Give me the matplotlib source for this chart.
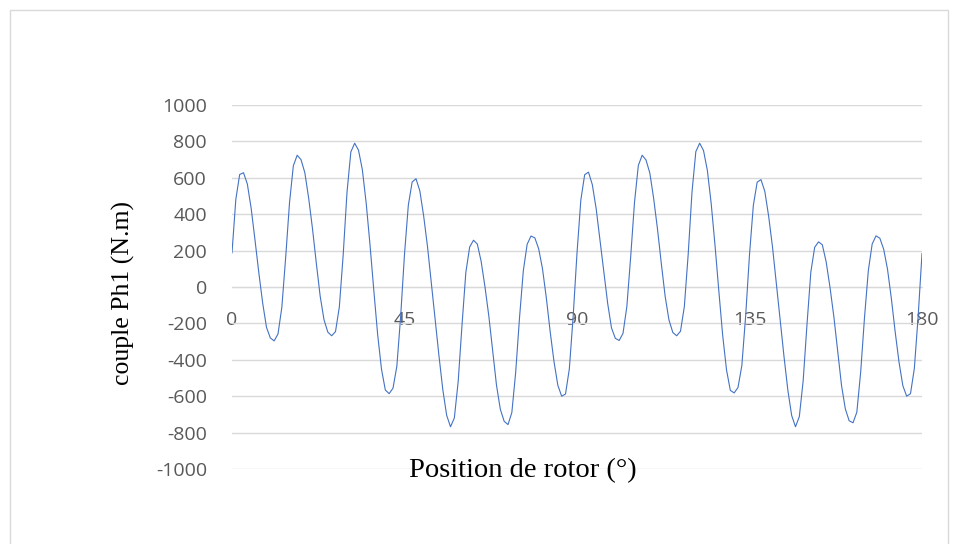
import matplotlib
matplotlib.use("Agg")
import matplotlib.pyplot as plt
from matplotlib.patches import Rectangle

plt.rcParams["axes.unicode_minus"] = False

# rotor position (deg), one sample per degree
position = list(range(0, 181))

# torque of phase 1 (N.m)
couple_0_89 = [
    188, 482, 618, 628, 566, 432, 258, 78, -88, -222,
    -280, -296, -258, -112, 162, 462, 666, 724, 700, 628,
    488, 320, 130, -50, -180, -248, -268, -245, -110, 175,
    520, 742, 790, 752, 645, 462, 232, -20, -262, -452,
    -566, -586, -556, -436, -160, 180, 450, 577, 595, 528,
    390, 222, 20, -180, -380, -565, -705, -768, -720, -520,
    -210, 80, 220, 257, 236, 140, 0, -160, -350, -540,
    -672, -738, -756, -690, -470, -170, 90, 235, 280, 270,
    210, 100, -60, -245, -410, -540, -600, -588, -450, -160,
]
couple_90_180 = [
    186, 478, 617, 631, 562, 430, 255, 75, -90, -225,
    -282, -294, -255, -108, 165, 465, 668, 724, 698, 626,
    486, 318, 128, -52, -182, -250, -268, -243, -108, 178,
    522, 744, 790, 750, 642, 460, 230, -22, -265, -455,
    -568, -582, -552, -432, -158, 178, 448, 576, 590, 525,
    388, 220, 18, -182, -382, -566, -706, -768, -712, -515,
    -205, 82, 218, 248, 232, 138, -2, -162, -352, -540,
    -670, -735, -746, -688, -468, -168, 90, 236, 281, 268,
    208, 98, -62, -246, -412, -542, -600, -586, -448, -160,
    184,
]
couple = couple_0_89 + couple_90_180

x_ticks = [0, 45, 90, 135, 180]
y_ticks = list(range(-1000, 1001, 200))

grid_col = "#d9d9d9"
label_col = "#595959"

fig = plt.figure(figsize=(9.58, 5.44), dpi=100)
fig.patches.append(Rectangle((10 / 958, -0.05), 938 / 958, 1.05 - 10 / 544,
                             transform=fig.transFigure, fill=False,
                             edgecolor=grid_col, linewidth=1))

ax = fig.add_axes([232 / 958, 75 / 544, 690 / 958, 364 / 544])
ax.plot(position, couple, color="#4472C4", linewidth=0.8, zorder=3)

ax.set_xlim(0, 180)
ax.set_ylim(-1000, 1000)
ax.set_xticks(x_ticks)
ax.set_yticks(y_ticks)
ax.grid(axis="y", color=grid_col, linewidth=1)
ax.set_axisbelow(True)

for s in ["top", "right", "left"]:
    ax.spines[s].set_visible(False)
ax.spines["bottom"].set_position(("data", 0))
ax.spines["bottom"].set_color(grid_col)

ax.tick_params(axis="both", length=0, labelcolor=label_col, labelsize=14)
ax.tick_params(axis="y", pad=18)
ax.tick_params(axis="x", pad=17)
for lbl in ax.get_xticklabels() + ax.get_yticklabels():
    lbl.set_family("Open Sans")

# axis titles
fig.text(123 / 958, 1 - 293 / 544, "couple Ph1 (N.m)", family="Liberation Serif",
         fontsize=18.5, color="black", rotation=90, ha="center", va="center")
ax.text(75.8, -1010, "Position de rotor (°)", family="Liberation Serif",
        fontsize=20.5, color="black", ha="center", va="center", zorder=4)

fig.savefig("out.png", dpi=100)
